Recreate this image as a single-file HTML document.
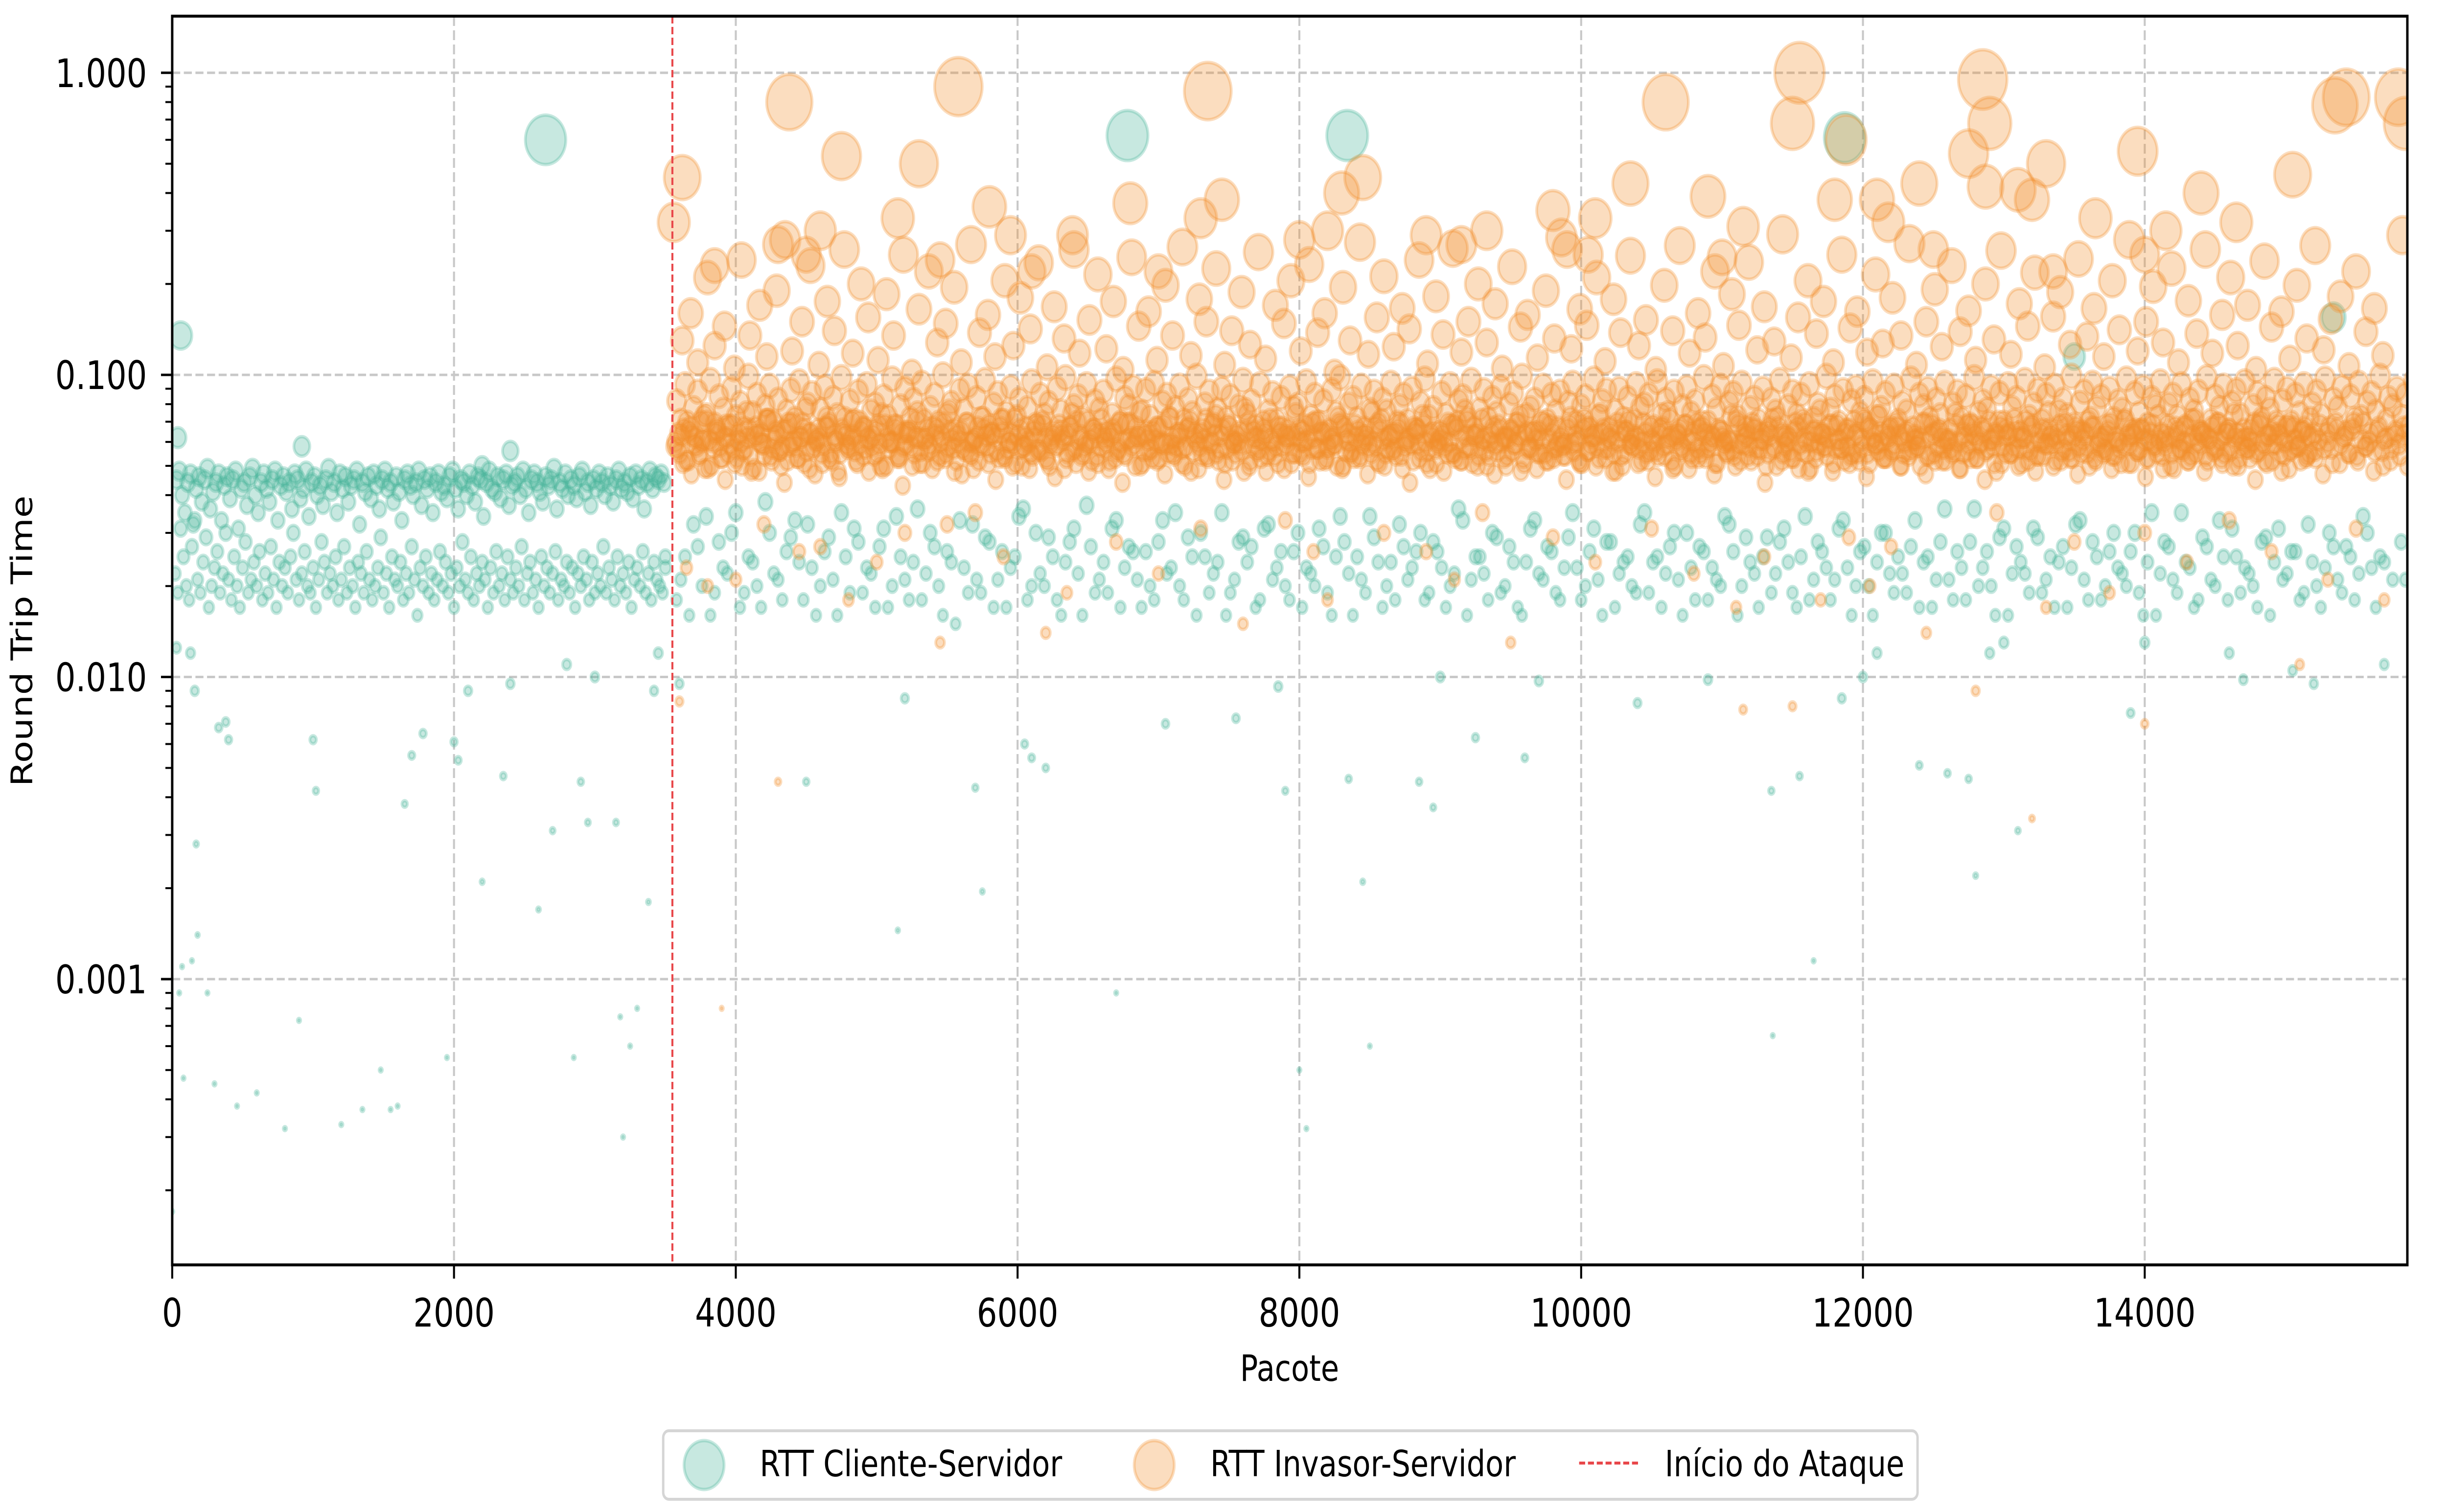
<!DOCTYPE html>
<html><head><meta charset="utf-8"><style>
html,body{margin:0;padding:0;background:#fff;overflow:hidden;width:100%;height:100%;}
svg{display:block;font-family:"DejaVu Sans","Liberation Sans",sans-serif;overflow:hidden;width:100vw;height:100vh;}
</style></head><body>
<svg id="chart" viewBox="0 0 6110 3090" preserveAspectRatio="none" xmlns="http://www.w3.org/2000/svg">
<rect x="0" y="0" width="6110" height="3090" fill="#fff"/>
<g id="grid"></g>
<g id="marks"></g>
<g id="axes"></g>
<text x="3220" y="2822" font-size="74" text-anchor="middle">Pacote</text>
<text x="0" y="0" font-size="74" text-anchor="middle" transform="translate(80,1310) rotate(-90)">Round Trip Time</text>
<g>
<rect x="1656" y="2924" width="3132" height="140" rx="14" fill="#fff" stroke="#d5d5d5" stroke-width="6"/>
<g>
<circle cx="1758" cy="2994" r="50" fill="#45b299" fill-opacity="0.3" stroke="#45b299" stroke-opacity="0.3" stroke-width="7"/>
<text x="1897" y="3017" font-size="74">RTT Cliente-Servidor</text>
</g>
<g>
<circle cx="2882" cy="2994" r="50" fill="#f28e2b" fill-opacity="0.3" stroke="#f28e2b" stroke-opacity="0.3" stroke-width="7"/>
<text x="3022" y="3017" font-size="74">RTT Invasor-Servidor</text>
</g>
<g>
<line x1="3943" y1="2990" x2="4092" y2="2990" stroke="#e8474a" stroke-width="6" stroke-dasharray="15,7"/>
<text x="4157" y="3017" font-size="74">Início do Ataque</text>
</g>
</g>
</svg>
<script>
// ---- axis config / ticks ----
const xTickVals = [0,2000,4000,6000,8000,10000,12000,14000];
const xTickLabels = ["0","2000","4000","6000","8000","10000","12000","14000"];
const yTickVals = [1,0.1,0.01,0.001];
const yTickLabels = ["1.000","0.100","0.010","0.001"];
const attackStart = [3550];
// ---- green (Cliente-Servidor) pre-attack, sampled packets (ms) ----
const gPreStart = [20], gPreStep = [20];
const gPreA = [22,19,31,25,20,18,27,33,21,19,24,29,17,20,23,26,19,22,30,21,18,25,20,17,23,28,19,21,24,20,26,18,22,19,27,21,17,24,20,23,19,25,30,21,18,22,26,20,19,23,17,21,28,24,19,22,20,25,18,21,27,19,23,20,17,24,22,19,26,21,18,20,23,29,19,22,17,25,21,20,24,18,22,19,27,21,16,23,20,25,19,22,18,21,26,20,24,19,22,17,23,20,28,21,19,25,18,22,20,24,21,17,23,19,26,20,22,18,25,21,19,23,20,27,18,22,24,19,21,17,25,20,23,19,22,26,18,21,20,24,19,23,17,22,20,25,21,18,24,19,22,20,27,19,23,21,18,25,20,22,19,24,17,21,23,20,26,19,22,18,24,21,20,19,23];
const gPreB = [45,48,40,35,44,47,32,42,46,38,45,49,36,41,44,47,33,43,46,39,45,48,31,42,44,37,46,49,40,35,44,47,42,38,45,48,33,43,46,41,44,36,47,45,39,42,48,34,44,46,40,43,37,45,49,41,44,35,47,42,46,38,43,45,48,32,44,41,46,39,47,43,36,45,48,42,44,38,46,41,33,45,47,43,40,44,48,37,45,42,46,35,44,47,41,43,39,46,48,42,36,45,44,40,47,43,38,46,45,34,44,48,42,41,46,39,45,47,37,43,44,46,40,48,42,35,45,47,44,41,38,46,43,45,49,36,44,42,47,40,45,43,39,46,48,41,44,37,45,42,47,44,40,46,43,38,45,48,42,44,41,46,39,47,43,45,36,44,48,42,46,45,47,44];
const gExtraX = [0,30,40,50,60,70,80,130,140,160,170,180,250,300,330,380,400,460,600,800,900,920,1000,1020,1200,1350,1480,1550,1600,1650,1700,1780,1950,2000,2030,2100,2200,2200,2350,2400,2400,2600,2650,2700,2800,2850,2900,2950,3000,3150,3180,3200,3250,3300,3380,3420,3450,3500];
const gExtraMs = [0.17,12.5,62,0.9,135,1.1,0.47,12,1.15,9,2.8,1.4,0.9,0.45,6.8,7.1,6.2,0.38,0.42,0.32,0.73,58,6.2,4.2,0.33,0.37,0.5,0.37,0.38,3.8,5.5,6.5,0.55,6.1,5.3,9,2.1,50,4.7,9.5,56,1.7,600,3.1,11,0.55,4.5,3.3,10,3.3,0.75,0.3,0.6,0.8,1.8,9,12,25];
// ---- green post-attack ----
const gPostStart = [3580], gPostStep = [60];
const gPostA = [18,25,32,20,16,28,22,35,19,24,17,30,21,26,33,18,23,20,29,16,25,31,19,22,27,17,34,21,24,18,30,20,26,15,23,32,19,28,21,17,25,36,20,22,29,18,24,31,16,27,21,19,33,23,26,17,20,28,22,35,18,25,30,19,24,16,21,29,27,18,32,23,20,26,17,22,31,19,25,28,16,21,34,24,20,18,27,23,30,19,26,17,22,33,21,25,18,29,20,24,16,31,22,27,19,23,35,18,26,21,28,17,24,20,32,19,25,22,30,16,23,27,18,21,34,26,20,24,17,29,22,31,19,25,18,28,23,21,33,16,26,20,24,30,19,22,27,17,25,21,36,18,23,28,20,26,16,31,22,24,19,29,21,17,27,23,33,18,25,20,30,22,26,19,24,16,28,21,35,23,18,27,20,25,31,19,22,17,29,24,21,26,18,32,20,23,27,19,25,22,30,17,24,21,28];
const gPostB = [21,16,27,34,19,23,30,17,25,20,38,22,18,29,24,32,16,26,21,35,19,28,23,17,31,20,25,18,36,22,27,16,24,33,19,21,29,17,26,23,34,18,30,20,25,16,28,22,37,19,24,31,17,27,21,26,18,33,23,20,29,16,25,22,35,19,28,24,17,31,21,26,18,30,23,20,27,16,34,22,25,19,29,17,24,32,21,26,18,28,23,20,36,16,25,22,30,19,27,17,24,33,21,26,18,29,23,20,31,16,28,22,25,19,35,24,17,27,21,30,18,26,23,20,32,16,29,22,25,19,28,24,17,34,21,26,18,31,23,20,27,16,30,22,25,19,33,24,17,28,21,26,18,36,23,20,29,16,27,22,31,19,25,24,17,32,21,28,18,26,23,20,30,16,35,22,27,19,24,17,29,21,33,18,25,23,20,28,16,31,22,26,19,24,17,30,21,27,18,34,23,25];
const gPostExtraX = [6780,8340,11870,15340,13500,3600,4500,5150,5200,5700,5750,6050,6100,6200,6700,7050,7550,7850,7900,8000,8050,8350,8450,8500,8850,8950,9250,9600,9700,10400,10900,11350,11550,11650,11850,12100,12400,12600,12750,12800,12900,13100,13900,14600,14700,15050,15200,15700,15850,11360,12000,13000,9000,14000];
const gPostExtraMs = [620,620,610,155,115,9.5,4.5,1.45,8.5,4.3,1.95,6,5.4,5,0.9,7,7.3,9.3,4.2,0.5,0.32,4.6,2.1,0.6,4.5,3.7,6.3,5.4,9.7,8.2,9.8,4.2,4.7,1.15,8.5,12,5.1,4.8,4.6,2.2,12,3.1,7.6,12,9.8,10.5,9.5,11,21,0.65,10,13,10,13];
// ---- orange (Invasor-Servidor) dense band ----
const oBandStart = [3565], oBandStep = [30];
const oBandA = [58,64,51,70,47,62,55,73,49,60,66,53,45,68,57,61,50,75,54,63,48,59,71,52,65,56,44,69,60,53,62,77,49,58,66,51,72,55,61,46,64,57,70,52,59,67,48,63,55,74,50,60,68,54,43,65,58,62,51,71,56,49,66,60,53,76,57,63,47,69,55,61,52,72,58,64,45,67,54,60,50,73,57,62,49,65,56,70,53,59,46,68,61,55,74,51,63,58,48,66,54,71,60,52,64,57,44,69,62,50,75,56,61,53,67,59,47,72,55,64,51,58,70,62,49,66,54,60,73,57,45,68,52,63,59,77,50,65,56,61,48,71,54,67,58,62,51,74,55,60,46,69,57,64,52,66,59,72,49,61,55,68,53,63,47,75,58,65,50,62,56,70,54,60,44,67,59,73,51,64,57,61,48,69,55,66,52,76,58,63,50,71,56,60,47,68,62,54,65,59,73,51,57,64,49,70,55,61,53,67,58,45,72,60,52,66,56,63,50,74,57,62,48,69,54,65,59,71,51,60,55,67,46,63,58,75,52,61,56,68,49,64,57,70,53,60,47,66,62,55,73,50,59,64,54,69,57,61,44,67,58,72,52,63,56,65,49,71,55,60,53,76,58,62,48,68,57,64,51,70,55,61,46,66,59,73,53,63,56,69,50,60,54,67,58,62,47,72,55,65,52,61,57,74,49,64,56,68,53,60,45,70,58,63,51,66,55,71,50,62,57,67,48,64,54,75,59,61,52,69,56,63,47,65,58,72,53,60,55,68,49,62,57,70,51,64,56,66,46,61,59,73,54,63,50,67,57,60,52,71,55,65,48,62,58,69,53,64,56,74,50,61,57,66,45,68,59,63,52,70,55,60,49,67,58,65,53,72,56,61,47,64,57,69,51,62,55,66,54,73,58,60,48,65,56,71,52,63,59,67,50,61,57,68];
const oBandB = [82,71,93,65,78,88,60,74,96,69,85,77,62,90,73,81,67,99,75,86,64,79,92,70,83,58,76,89,72,95,66,80,87,61,77,91,69,84,74,98,63,82,71,88,67,93,76,80,59,85,73,97,68,79,90,65,83,75,94,62,78,86,70,100,74,81,66,89,77,92,60,84,72,96,68,80,87,64,75,91,71,83,58,78,95,69,86,74,81,63,90,76,98,67,79,85,72,93,61,82,77,88,65,74,97,70,84,79,91,62,76,89,73,94,67,81,86,59,78,92,71,83,75,99,64,80,88,69,77,90,72,85,60,79,96,74,82,68,93,66,76,87,71,84,63,91,78,80,65,95,73,86,70,82,57,89,75,98,67,80,84,72,92,61,77,88,69,83,76,94,64,79,86,71,90,66,81,97,73,78,60,87,74,93,68,82,85,70,96,63,77,89,72,84,75,91,62,80,87,69,99,74,78,83,65,92,71,86,76,88,59,81,94,70,79,85,67,97,73,82,89,64,76,90,72,84,61,93,78,80,86,68,95,74,83,71,88,63,79,91,75,82,66,98,70,85,77,92,60,81,87,73,94,67,78,84,71,90,65,83,76,96,62,79,88,74,86,69,93,72,80,64,99,77,85,70,89,58,82,91,75,84,67,95,73,78,87,66,92,71,81,76,97,63,86,79,90,68,83,74,94,61,80,88,72,85,69,98,75,82,77,91,64,87,70,93,78,84,65,96,73,80,89,71,86,62,92,76,83,74,99,67,81,88,70,94,78,85,63,90,72,82,77,97,66,87,75,91,69,84,79,95,60,80,86,73,93,68,83,76,88,64,98,71,85,78,92,66,81,89,74,95,62,79,87,72,84,77,96,68,82,90,70,86,75,93,63,80,88,74,97,67,83,78,91,65,85,72,94,69,81,87,76,99,61,84,79,90,73,86,68,95,71,82,88,75,92];
const oBandC = [60,55,66,52,63,58,70,49,61,57,65,53,68,59,51,64,56,62,48,67,60,54,71,57,63,50,66,58,61,53,69,56,64,47,62,59,67,52,60,55,72,58,63,51,65,57,61,54,68,49,62,60,66,53,58,64,50,70,56,61,59,67,52,63,55,65,48,60,57,69,54,62,58,66,51,64,56,71,53,60,59,63,50,67,55,62,57,68,52,61,58,65,49,63,56,70,54,60,59,66,51,64,57,62,53,69,55,61,58,67,50,63,56,65,52,60,59,72,54,62,57,66,48,64,58,61,53,68,55,63,51,67,59,60,56,65,52,62,57,70,54,61,58,64,49,66,55,63,60,68,51,62,57,65,53,61,59,69,50,64,56,62,54,67,58,60,52,71,55,63,57,66,49,61,59,64,53,68,56,62,51,65,58,60,55,70,52,63,57,67,54,61,50,64,59,66,53,62,56,69,48,63,58,65,55,61,52,68,57,60,54,66,59,63,51,71,56,62,58,64,53,67,55,60,50,65,59,63,57,69,52,61,56,66,54,62,49,64,58,68,55,60,53,67,57,63,51,65,59,61,56,70,52,62,58,66,54,64,50,63,57,67,55,60,53,69,59,62,48,65,56,64,58,68,51,61,57,66,54,63,52,71,55,60,59,65,53,62,57,67,50,64,56,61,58,69,54,63,52,66,57,60,55,68,49,62,59,64,53,67,56,61,51,70,58,63,55,65,57,62,52,68,54,60,59,66,50,64,56,63,53,69,58,61,55,67,52,62,57,65,54,60,51,71,59,63,56,66,53,64,58,61,49,68,55,62,57,67,52,63,60,65,54,61,56,69,51,64,58,62,53,66,57,60,55,70,52,63,59,64,48,67,56,61,58,65,54,62,53,68,57,60,51,66,59,63,55,69,52,61,58,64,56,67,50,62,57,65,54,63];
const oBandD = [57,63,52,67,59,54,61,70,50,64,58,62,55,68,53,60,57,66,49,63,59,71,54,61,56,65,52,69,58,62,51,64,57,60,55,67,53,63,48,66,59,61,56,70,54,62,58,65,50,68,57,60,53,64,59,72,55,62,51,66,57,63,54,69,58,61,52,65,56,60,49,67,59,63,55,62,53,71,57,64,51,66,58,60,54,68,56,62,50,65,59,63,53,67,57,61,55,70,52,64,58,62,49,66,56,60,54,69,59,63,51,65,57,61,53,68,55,62,58,64,50,67,56,60,54,71,59,63,52,66,57,61,55,65,48,69,58,62,53,64,56,60,51,67,59,63,55,66,54,61,57,70,52,64,58,62,50,68,56,60,53,65,59,63,55,67,51,61,57,64,54,69,58,62,52,66,56,60,49,65,59,63,55,68,53,61,57,72,51,64,58,62,54,67,56,60,50,66,59,63,53,65,57,61,55,69,52,64,58,62,54,68,56,60,51,67,59,63,53,66,57,61,48,65,55,70,58,62,52,64,56,60,54,67,59,63,50,66,57,61,53,69,55,64,58,62,51,65,56,60,54,68,59,63,52,66,57,61,55,71,50,64,58,62,53,67,56,60,49,65,59,63,54,68,57,61,52,66,55,64,58,70,51,62,56,60,53,67,59,63,55,65,57,61,50,69,54,64,58,62,52,66,56,60,55,68,53,63,59,65,57,61,48,67,55,64,58,62,51,70,56,60,54,66,59,63,52,68,57,61,53,65,55,64,50,67,58,62,56,69,54,60,59,63,51,66,57,61,53,68,55,64,58,62,49,65,56,60,54,71,59,63,52,67,57,61,55,66,50,64,58,62,53,69,56,60,51,65,59,63,54,68,57,61,52,67,55,64];
// ---- orange upper scatter ----
const oHiX = [3620,3680,3730,3800,3850,3920,3990,4040,4100,4170,4220,4290,4350,4400,4470,4530,4590,4650,4700,4770,4830,4890,4940,5010,5070,5120,5190,5250,5300,5370,5430,5490,5550,5600,5670,5730,5790,5840,5910,5970,6020,6090,6150,6210,6260,6330,6390,6440,6510,6570,6630,6680,6750,6810,6860,6930,6990,7050,7100,7170,7230,7290,7340,7410,7470,7520,7590,7650,7710,7760,7830,7890,7940,8010,8070,8130,8180,8250,8310,8360,8430,8490,8550,8600,8670,8730,8780,8850,8910,8970,9020,9090,9150,9200,9270,9330,9390,9440,9510,9570,9620,9690,9750,9810,9860,9930,9990,10040,10110,10170,10230,10280,10350,10410,10460,10530,10590,10650,10700,10770,10830,10880,10950,11010,11070,11120,11190,11250,11300,11370,11430,11490,11540,11610,11670,11720,11790,11850,11910,11960,12030,12090,12140,12210,12270,12330,12380,12450,12510,12560,12630,12690,12750,12800,12870,12930,12980,13050,13110,13170,13220,13290,13350,13400,13470,13530,13590,13640,13710,13770,13820,13890,13950,14010,14060,14130,14190,14240,14310,14370,14430,14480,14550,14610,14660,14730,14790,14850,14900,14970,15030,15080,15150,15210,15270,15320,15390,15450,15500,15570,15630,15690,15740,15810,15850];
const oHiMs = [130,160,110,210,125,145,105,240,135,170,115,190,280,120,150,230,108,175,140,260,118,200,155,112,185,135,250,102,165,220,128,148,195,110,270,138,158,115,205,125,180,142,235,106,168,132,290,118,152,215,122,175,104,245,145,162,112,198,135,265,116,178,150,225,108,140,188,126,255,113,170,148,205,120,232,138,160,102,195,130,275,117,155,212,124,166,142,240,109,182,136,262,119,150,200,128,172,105,228,144,158,114,190,132,285,122,165,146,210,111,178,138,248,125,152,104,198,140,268,118,160,133,220,107,185,146,236,121,168,129,292,114,155,205,137,175,110,250,143,162,119,215,127,180,135,272,108,150,192,124,230,139,163,112,200,131,258,117,172,145,218,106,156,188,126,242,134,166,115,205,141,280,120,150,196,128,225,110,176,137,260,118,158,210,125,170,104,238,144,162,113,198,132,268,121,153,182,107,220,139,166,116];
// ---- orange big outliers ----
const oBigX = [3560,3620,4380,4750,5150,5300,5580,5800,5950,6100,6800,7350,7450,7300,8000,8300,8450,8200,8900,9330,9800,10100,10350,10600,10900,11150,11500,11550,11800,11880,12100,12180,12400,12750,12850,12900,12870,13100,13200,13300,13650,13950,14150,14400,14650,15050,15350,15430,15800,15850,15830,14000,13350,12500,9900,9150,10050,11000,6400,7000,4600,4300,4500,5450,3850];
const oBigMs = [320,450,800,530,330,500,900,360,290,220,370,870,380,330,280,400,450,300,290,300,350,330,430,800,390,310,680,1000,380,600,380,320,430,540,950,680,420,410,380,500,330,550,300,400,320,460,780,830,830,680,290,250,220,260,260,270,250,245,260,220,300,270,250,240,230];
// ---- orange low outliers ----
const oLowX = [3600,3650,3800,4000,4200,4300,4450,4600,4800,5000,5200,5450,5500,5700,5900,6200,6350,6700,7000,7300,7600,7900,8100,8200,8600,8900,9100,9300,9500,9800,10100,10500,10800,11100,11300,11500,11700,11900,12050,12200,12450,12800,12950,13200,13300,13500,13750,14000,14300,14600,14900,15100,15300,15500,15700,3900,11150,14000];
const oLowMs = [8.3,23,20,21,32,4.5,26,27,18,24,30,13,32,35,25,14,19,28,22,31,15,33,26,18,30,26,21,35,13,29,24,31,22,17,25,8,18,29,20,27,14,9,35,3.4,17,28,19,30,24,33,26,11,21,31,18,0.8,7.8,7];

// ---- scales ----
const PL=430, PR=6011, PT=33, PB=2585;
const XMAX=15864, LYMAX=Math.log10(1.54), LYMIN=-3.946;
const NS="http://www.w3.org/2000/svg";
function xs(v){return PL+(v/XMAX)*(PR-PL);}
function ys(v){return PT+(LYMAX-Math.log10(v))/(LYMAX-LYMIN)*(PB-PT);}
function rad(s){return Math.max(4, 62*Math.pow(s,0.4));}
function mk(tag,attrs,parent){const e=document.createElementNS(NS,tag);for(const k in attrs)e.setAttribute(k,attrs[k]);parent.appendChild(e);return e;}
const grid=document.getElementById('grid'), marks=document.getElementById('marks'), axes=document.getElementById('axes');
const defs=mk('defs',{},document.getElementById('chart'));
const cp=mk('clipPath',{id:'pc'},defs);
mk('rect',{x:PL,y:PT,width:PR-PL,height:PB-PT},cp);
marks.setAttribute('clip-path','url(#pc)');
// grid
xTickVals.forEach(v=>{const l=mk('line',{x1:xs(v),x2:xs(v),y1:PT,y2:PB,stroke:'#c8c8c8','stroke-width':5,'stroke-dasharray':'20,9'},grid);

});
yTickVals.forEach(v=>{const l=mk('line',{x1:PL,x2:PR,y1:ys(v),y2:ys(v),stroke:'#c8c8c8','stroke-width':5,'stroke-dasharray':'20,9'},grid);

});
// points
function pt(x,ms,col,name){const s=ms/1000;const c=mk('circle',{cx:xs(x),cy:ys(s),r:rad(s),fill:col,'fill-opacity':0.3,stroke:col,'stroke-opacity':0.3,'stroke-width':7},marks);

}
const G='#45b299', O='#f28e2b';
gPreA.forEach((v,i)=>pt(gPreStart[0]+i*gPreStep[0],v,G,'point-cliente'));
gPreB.forEach((v,i)=>pt(gPreStart[0]+10+i*gPreStep[0],v,G,'point-cliente'));
gExtraX.forEach((x,i)=>pt(x,gExtraMs[i],G,'point-cliente'));
gPostA.forEach((v,i)=>pt(gPostStart[0]+i*gPostStep[0],v,G,'point-cliente'));
gPostB.forEach((v,i)=>pt(gPostStart[0]+30+i*gPostStep[0],v,G,'point-cliente'));
gPostExtraX.forEach((x,i)=>pt(x,gPostExtraMs[i],G,'point-cliente'));
oLowX.forEach((x,i)=>pt(x,oLowMs[i],O,'point-invasor'));
oBandB.forEach((v,i)=>pt(oBandStart[0]+15+i*oBandStep[0],v,O,'point-invasor'));
oBandA.forEach((v,i)=>pt(oBandStart[0]+i*oBandStep[0],v,O,'point-invasor'));
oBandC.forEach((v,i)=>pt(oBandStart[0]+7+i*oBandStep[0],v,O,'point-invasor'));
oBandD.forEach((v,i)=>pt(oBandStart[0]+22+i*oBandStep[0],v,O,'point-invasor'));
oHiX.forEach((x,i)=>pt(x,oHiMs[i],O,'point-invasor'));
oBigX.forEach((x,i)=>pt(x,oBigMs[i],O,'point-invasor'));
// attack line
const al=mk('line',{x1:xs(attackStart[0]),x2:xs(attackStart[0]),y1:PT,y2:PB,stroke:'#e8474a','stroke-width':5,'stroke-dasharray':'15,7'},axes);


// frame
const fr=mk('rect',{x:PL,y:PT,width:PR-PL,height:PB-PT,fill:'none',stroke:'#000','stroke-width':6},axes);


// x ticks
xTickVals.forEach((v,i)=>{const t=mk('line',{x1:xs(v),x2:xs(v),y1:PB,y2:PB+28,stroke:'#000','stroke-width':5},axes);


const tx=mk('text',{x:xs(v),y:2711,'font-size':80,'text-anchor':'middle'},axes);tx.textContent=xTickLabels[i];

});
// y ticks
yTickVals.forEach((v,i)=>{const t=mk('line',{x1:PL-28,x2:PL,y1:ys(v),y2:ys(v),stroke:'#000','stroke-width':5},axes);


const tx=mk('text',{x:367,y:ys(v)+29,'font-size':80,'text-anchor':'end'},axes);tx.textContent=yTickLabels[i];

});
// minor y ticks
for(let d=-4;d<=0;d++){for(let m=2;m<=9;m++){const v=m*Math.pow(10,d);const y=ys(v);if(y<PT||y>PB)continue;
const t=mk('line',{x1:PL-17,x2:PL,y1:y,y2:y,stroke:'#000','stroke-width':4},axes);

}}
</script>
</body></html>
